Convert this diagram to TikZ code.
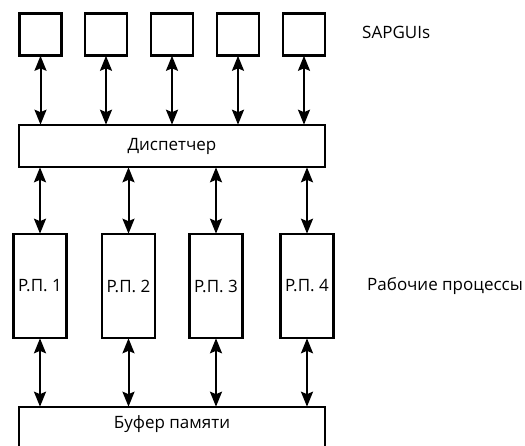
\documentclass[tikz,border=0pt]{standalone}
\usepackage{fontspec}
\setmainfont{Open Sans}
\usetikzlibrary{arrows.meta}
\begin{document}
\begin{tikzpicture}[x=1pt,y=-1pt,
  txt/.style={font=\fontsize{17}{20}\selectfont},
  box/.style={draw, line width=2.2pt, fill=white, inner sep=0pt, txt},
  gui/.style={box, minimum width=42pt, minimum height=42pt},
  wide/.style={box, minimum width=306pt, minimum height=42pt},
  proc/.style={box, minimum width=53pt, minimum height=104pt},
  tip/.tip={Stealth[length=15pt,width=12pt,inset=2.5pt]},
  link/.style={line width=2pt, tip-tip, shorten <=-0.8pt, shorten >=-0.8pt},
  lbl/.style={anchor=west, inner sep=0pt, txt}]
  \useasboundingbox (0,0) rectangle (525,446);
  \clip (0,0) rectangle (525,446);

  % client front-ends
  \foreach \i/\x in {1/40.5,2/106,3/172,4/238,5/304}
    \node[gui] (g\i) at (\x,34.5) {};
  \node[lbl] (sapgui) at (362,32) {SAPGUIs};

  % dispatcher
  \node[wide] (disp) at (172,146) {Диспетчер};

  % work processes
  \node[proc] (p1) at (40,286) {Р.П. 1};
  \node[proc] (p2) at (128.5,286) {Р.П. 2};
  \node[proc] (p3) at (216,286) {Р.П. 3};
  \node[proc] (p4) at (307,286) {Р.П. 4};
  \node[lbl] (wp) at (367,286) {Рабочие процессы};

  % shared memory buffer, running past the lower edge
  \node[box, minimum width=306pt, minimum height=60pt] (buf) at (172,437) {};
  \node[txt, inner sep=0pt] (buftxt) at (172,424) {Буфер памяти};

  % front-ends <-> dispatcher
  \foreach \i in {1,...,5}
    \draw[link] (g\i.south) -- (g\i.south |- disp.north);

  % dispatcher <-> work processes
  \foreach \i in {1,...,4}
    \draw[link] (p\i.north |- disp.south) -- (p\i.north);

  % work processes <-> buffer
  \foreach \i in {1,...,4}
    \draw[link] (p\i.south) -- (p\i.south |- buf.north);
\end{tikzpicture}
\end{document}
